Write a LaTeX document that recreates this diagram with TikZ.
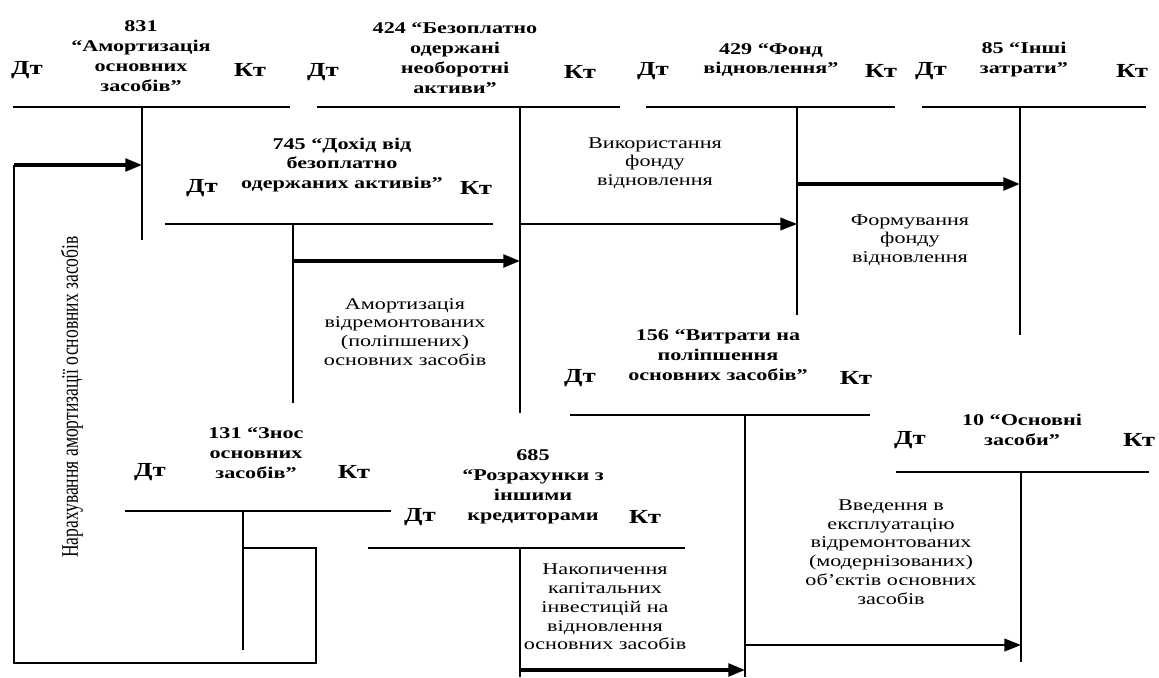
\documentclass[tikz,border=0pt]{standalone}
\usepackage{fontspec}
\setmainfont{Liberation Serif}[FakeStretch=1.35]
\newfontfamily\plainserif{Liberation Serif}
\usetikzlibrary{arrows.meta}

\tikzset{
  acc/.style={line width=1.6pt},
  title/.style={font=\fontsize{14}{17}\selectfont\bfseries, align=center, inner sep=0pt},
  side/.style={font=\fontsize{17}{19}\selectfont\bfseries, inner sep=0pt},
  oper/.style={font=\fontsize{14}{16}\selectfont, align=center, inner sep=0pt},
  flow/.style={line width=1.6pt, -{Triangle[length=5mm,width=3.8mm]}},
  bigflow/.style={line width=2.8pt, -{Triangle[length=5mm,width=3.8mm]}},
}

\begin{document}
\begin{tikzpicture}[x=0.03cm,y=-0.03cm]
\useasboundingbox (0,0) rectangle (1159,677);

% T-accounts: name/left/right/stem/line/stem end/label row/Dt/Kt
\foreach \n/\xl/\xr/\xv/\yl/\yb/\yt/\xd/\xk in
   {831/13/290/142/107/240/70/27/250,
    424/317/620/520/107/413/72/323/580,
    429/646/895/797/107/315/71/653/881,
    85/922/1146/1020/107/335/71/931/1132,
    745/165/493/293/224/403/188/202/476,
    131/125/391/243/511/650/472/150/354,
    685/368/685/520/548/677/517/420/645,
    156/570/870/745/415/677/378/580/856,
    10/896/1149/1021/472/662/440/910/1139}
{
  \coordinate (l\n) at (\xl,\yl);
  \coordinate (r\n) at (\xr,\yl);
  \coordinate (top\n) at (\xv,\yl);
  \coordinate (bot\n) at (\xv,\yb);
  \draw[acc] (l\n) -- (r\n) (top\n) -- (bot\n);
  \node[side] (d\n) at (\xd,\yt) {Дт};
  \node[side] (k\n) at (\xk,\yt) {Кт};
}

\node[title] (t831) at (141,56) {831\\“Амортизація\\основних\\засобів”};
\node[title] (t424) at (455,58) {424 “Безоплатно\\одержані\\необоротні\\активи”};
\node[title] (t429) at (771,60) {429 “Фонд\\відновлення”};
\node[title] (t85) at (1024,60) {85 “Інші\\затрати”};
\node[title] (t745) at (342,165) {745 “Дохід від\\безоплатно\\одержаних активів"};
\node[title] (t131) at (256,453) {131 “Знос\\основних\\засобів”};
\node[title] (t685) at (533,487) {685\\“Розрахунки з\\іншими\\кредиторами};
\node[title] (t156) at (718,355) {156 “Витрати на\\поліпшення\\основних засобів”};
\node[title] (t10) at (1022,430) {10 “Основні\\засоби”};

% operations
\coordinate (s745) at (293,261);  \coordinate (e424) at (520,261);
\coordinate (s424) at (520,224);  \coordinate (e429) at (797,224);
\coordinate (s429) at (797,184);  \coordinate (e85) at (1020,184);
\coordinate (s685) at (520,670);  \coordinate (e156) at (745,670);
\coordinate (s156) at (745,645);  \coordinate (e10) at (1021,645);
\draw[bigflow] (s745) -- (e424);
\draw[flow] (s424) -- (e429);
\draw[bigflow] (s429) -- (e85);
\draw[bigflow] (s685) -- (e156);
\draw[flow] (s156) -- (e10);

% loop 131 -> 831
\coordinate (s131) at (243,548);
\coordinate (c1) at (316,548);
\coordinate (c2) at (316,663);
\coordinate (c3) at (14,663);
\coordinate (c4) at (14,165);
\coordinate (e831) at (142,165);
\draw[acc] (s131) -- (c1) -- (c2) -- (c3) -- (c4);
\draw[bigflow] (c4) -- (e831);

\node[oper] (o1) at (405,332) {Амортизація\\відремонтованих\\(поліпшених)\\основних засобів};
\node[oper] (o2) at (655,163) {Використання\\фонду\\відновлення};
\node[oper] (o3) at (910,240) {Формування\\фонду\\відновлення};
\node[oper] (o4) at (605,607) {Накопичення\\капітальних\\інвестицій на\\відновлення\\основних засобів};
\node[oper] (o5) at (891,552) {Введення в\\експлуатацію\\відремонтованих\\(модернізованих)\\об’єктів основних\\засобів};
\node[oper, rotate=90, font=\plainserif\fontsize{15}{17}\selectfont] (o6) at (72,397)
   {\scalebox{1}[1.35]{Нарахування амортизації основних засобів}};
\end{tikzpicture}
\end{document}
